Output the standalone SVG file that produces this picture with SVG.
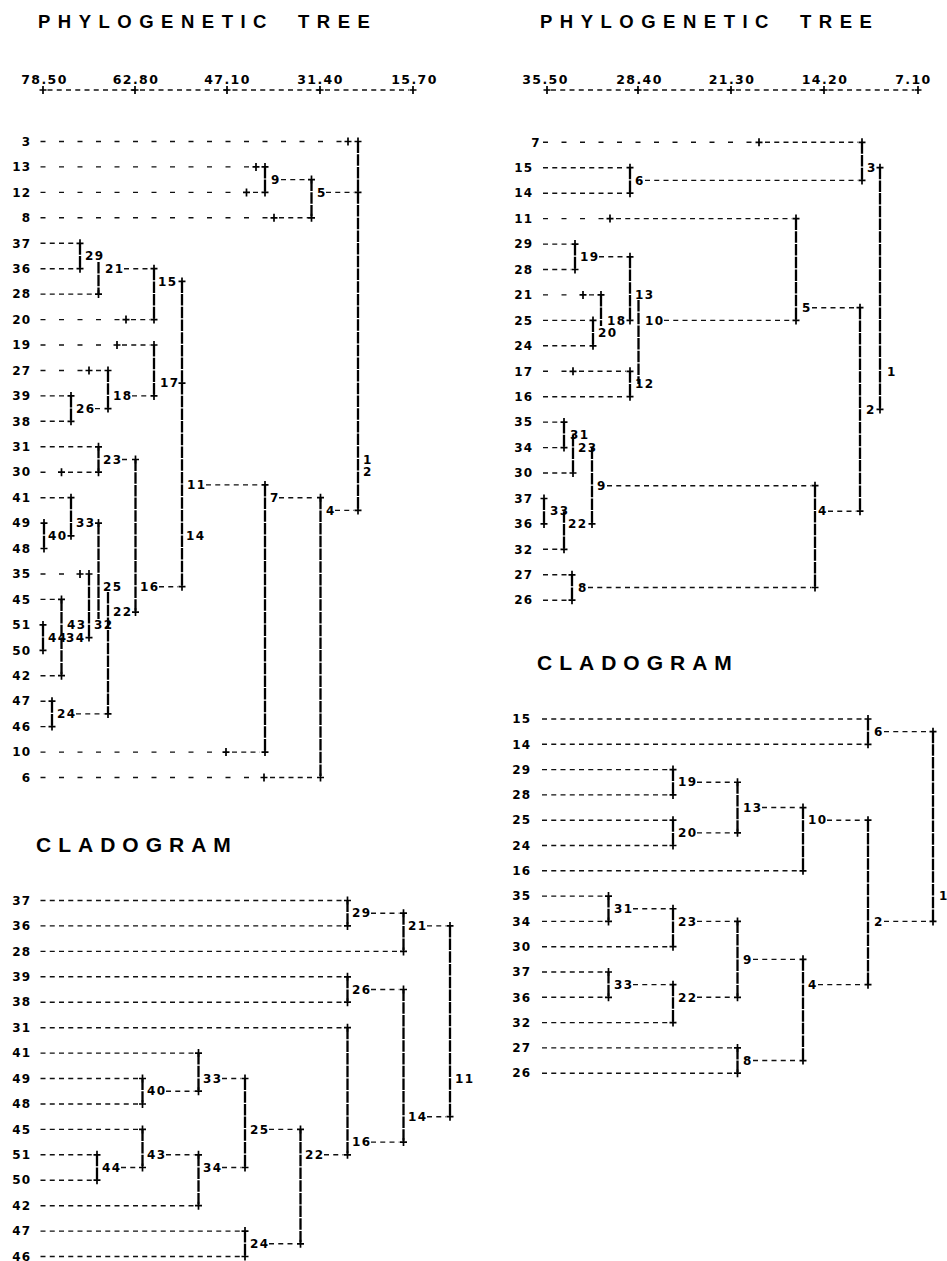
<svg xmlns="http://www.w3.org/2000/svg" width="947" height="1261" viewBox="0 0 947 1261">
<defs>
<style>
.d{fill:none;stroke:#111;stroke-width:1.4;stroke-dasharray:5 4.25}
.s{fill:none;stroke:#111;stroke-width:1.4;stroke-dasharray:5 13.5}
.v{fill:none;stroke:#000;stroke-width:2.3;stroke-dasharray:11.5 1.2}
.n{font-family:"DejaVu Sans",sans-serif;font-weight:bold;font-size:12px;letter-spacing:1.3px;fill:#000}
.e{text-anchor:end}
.ax{font-family:"DejaVu Sans",sans-serif;font-weight:bold;font-size:12.5px;letter-spacing:1.4px;text-anchor:middle;fill:#000}
.t{font-family:"Liberation Sans",Arial,sans-serif;font-weight:bold;font-size:18.5px;letter-spacing:7.5px;fill:#000}
.c{font-size:21px;letter-spacing:7px}
</style>
<path id="p" d="M-3.5 0H3.5M0 -4V4" stroke="#000" stroke-width="1.7" fill="none"/>
</defs>
<rect width="947" height="1261" fill="#fff"/>

<g id="title-tl"><text class="t" x="38" y="28">PHYLOGENETIC<tspan x="298">TREE</tspan></text></g>
<g id="title-tr"><text class="t" x="540" y="28">PHYLOGENETIC<tspan x="800">TREE</tspan></text></g>
<g id="title-bl"><text class="t c" x="36" y="852">CLADOGRAM</text></g>
<g id="title-br"><text class="t c" x="537" y="670">CLADOGRAM</text></g>

<g id="axis-tl">
<path class="d" d="M47.5 90H409"/>
<use href="#p" x="43" y="90"/><use href="#p" x="135" y="90"/><use href="#p" x="227" y="90"/><use href="#p" x="320" y="90"/><use href="#p" x="413" y="90"/>
<text class="ax" x="44.5" y="83.5">78.50</text><text class="ax" x="136" y="83.5">62.80</text><text class="ax" x="227.5" y="83.5">47.10</text><text class="ax" x="320.5" y="83.5">31.40</text><text class="ax" x="414.5" y="83.5">15.70</text>
</g>
<g id="axis-tr">
<path class="d" d="M551 90H914"/>
<use href="#p" x="547" y="90"/><use href="#p" x="638" y="90"/><use href="#p" x="731" y="90"/><use href="#p" x="824" y="90"/><use href="#p" x="918" y="90"/>
<text class="ax" x="545.5" y="83.5">35.50</text><text class="ax" x="639.5" y="83.5">28.40</text><text class="ax" x="732" y="83.5">21.30</text><text class="ax" x="825" y="83.5">14.20</text><text class="ax" x="913.5" y="83.5">7.10</text>
</g>

<!-- ===== TOP-LEFT PHYLOGENETIC TREE ===== -->
<g id="tl-connectors">
<path class="s" d="M40.5 141.5H342M40.5 166.9H249M40.5 192.4H233M40.5 217.8H268M40.5 319.6H120M40.5 345H101M40.5 370.5H83M40.5 472.2H46M40.5 574H64M40.5 752.1H212M40.5 777.5H250"/>
<path class="d" d="M253 192.4H258M279 217.8H308M40.5 243.3H76M40.5 268.7H76M40.5 294.1H94M131 319.6H150M122 345H150M96 370.5H101M40.5 395.9H67M40.5 421.3H67M40.5 446.8H94M68 472.2H94M40.5 497.7H67M40.5 599.4H57M40.5 675.7H57M40.5 701.2H46M40.5 726.6H46M232 752.1H260M270 777.5H316"/>
<path class="d" d="M281 179.6H308M326 192.4H354M124 268.7H150M206 484.9H261M132 395.9H150M95 408.6H104M122 459.5H131M159 586.7H178M279 497.7H316M335 510.4H354M76 713.9H104"/>
<path class="v" d="M358 141.5V510.4M265 166.9V192.4M311.5 179.6V217.8M80 243.3V268.7M98.5 262V294.1M154 268.7V319.6M182 281.4V586.7M154 345V395.9M108 370.5V408.6M71 395.9V421.3M98.5 446.8V472.2M135.5 459.5V612.1M265 484.9V752.1M320.5 497.7V777.5M71 497.7V535.8M44 523.1V548.5M98.5 523.1V619M89 574V637.6M61.5 599.4V675.7M43 624.9V650.3M108 592V713.9M52 701.2V726.6"/>
<use href="#p" x="348" y="141.5"/><use href="#p" x="256" y="166.9"/><use href="#p" x="246.5" y="192.4"/><use href="#p" x="274" y="217.8"/><use href="#p" x="126" y="319.6"/><use href="#p" x="117" y="345"/><use href="#p" x="89" y="370.5"/><use href="#p" x="61.5" y="472.2"/><use href="#p" x="80" y="574"/><use href="#p" x="226" y="752.1"/><use href="#p" x="264" y="777.5"/>
<use href="#p" x="358" y="141.5"/><use href="#p" x="265" y="166.9"/><use href="#p" x="265" y="192.4"/><use href="#p" x="311.5" y="217.8"/><use href="#p" x="80" y="243.3"/><use href="#p" x="80" y="268.7"/><use href="#p" x="98.5" y="294.1"/><use href="#p" x="154" y="319.6"/><use href="#p" x="154" y="345"/><use href="#p" x="108" y="370.5"/><use href="#p" x="71" y="395.9"/><use href="#p" x="71" y="421.3"/><use href="#p" x="98.5" y="446.8"/><use href="#p" x="98.5" y="472.2"/><use href="#p" x="71" y="497.7"/><use href="#p" x="44" y="523.1"/><use href="#p" x="44" y="548.5"/><use href="#p" x="89" y="574"/><use href="#p" x="61.5" y="599.4"/><use href="#p" x="43" y="624.9"/><use href="#p" x="43" y="650.3"/><use href="#p" x="61.5" y="675.7"/><use href="#p" x="52" y="701.2"/><use href="#p" x="52" y="726.6"/><use href="#p" x="265" y="752.1"/><use href="#p" x="320.5" y="777.5"/>
<use href="#p" x="311.5" y="179.6"/><use href="#p" x="358" y="192.4"/><use href="#p" x="154" y="268.7"/><use href="#p" x="182" y="281.4"/><use href="#p" x="265" y="484.9"/><use href="#p" x="182" y="383.2"/><use href="#p" x="154" y="395.9"/><use href="#p" x="108" y="408.6"/><use href="#p" x="135.5" y="459.5"/><use href="#p" x="182" y="586.7"/><use href="#p" x="320.5" y="497.7"/><use href="#p" x="358" y="510.4"/><use href="#p" x="98.5" y="523.1"/><use href="#p" x="71" y="535.8"/><use href="#p" x="89" y="637.6"/><use href="#p" x="135.5" y="612.1"/><use href="#p" x="108" y="713.9"/>
</g>
<g class="n e">
<g id="tl-leaf-3"><text x="31.5" y="145.7">3</text></g>
<g id="tl-leaf-13"><text x="31.5" y="171.1">13</text></g>
<g id="tl-leaf-12"><text x="31.5" y="196.6">12</text></g>
<g id="tl-leaf-8"><text x="31.5" y="222">8</text></g>
<g id="tl-leaf-37"><text x="31.5" y="247.5">37</text></g>
<g id="tl-leaf-36"><text x="31.5" y="272.9">36</text></g>
<g id="tl-leaf-28"><text x="31.5" y="298.3">28</text></g>
<g id="tl-leaf-20"><text x="31.5" y="323.8">20</text></g>
<g id="tl-leaf-19"><text x="31.5" y="349.2">19</text></g>
<g id="tl-leaf-27"><text x="31.5" y="374.7">27</text></g>
<g id="tl-leaf-39"><text x="31.5" y="400.1">39</text></g>
<g id="tl-leaf-38"><text x="31.5" y="425.5">38</text></g>
<g id="tl-leaf-31"><text x="31.5" y="451">31</text></g>
<g id="tl-leaf-30"><text x="31.5" y="476.4">30</text></g>
<g id="tl-leaf-41"><text x="31.5" y="501.9">41</text></g>
<g id="tl-leaf-49"><text x="31.5" y="527.3">49</text></g>
<g id="tl-leaf-48"><text x="31.5" y="552.7">48</text></g>
<g id="tl-leaf-35"><text x="31.5" y="578.2">35</text></g>
<g id="tl-leaf-45"><text x="31.5" y="603.6">45</text></g>
<g id="tl-leaf-51"><text x="31.5" y="629.1">51</text></g>
<g id="tl-leaf-50"><text x="31.5" y="654.5">50</text></g>
<g id="tl-leaf-42"><text x="31.5" y="679.9">42</text></g>
<g id="tl-leaf-47"><text x="31.5" y="705.4">47</text></g>
<g id="tl-leaf-46"><text x="31.5" y="730.8">46</text></g>
<g id="tl-leaf-10"><text x="31.5" y="756.3">10</text></g>
<g id="tl-leaf-6"><text x="31.5" y="781.7">6</text></g>
</g>
<g class="n">
<g id="tl-node-9"><text x="271" y="183.8">9</text></g>
<g id="tl-node-5"><text x="317" y="196.6">5</text></g>
<g id="tl-node-29"><text x="85" y="260.2">29</text></g>
<g id="tl-node-21"><text x="105" y="272.9">21</text></g>
<g id="tl-node-15"><text x="158" y="285.6">15</text></g>
<g id="tl-node-17"><text x="160" y="387.4">17</text></g>
<g id="tl-node-18"><text x="113" y="400.1">18</text></g>
<g id="tl-node-26"><text x="76" y="412.8">26</text></g>
<g id="tl-node-23"><text x="103" y="463.7">23</text></g>
<g id="tl-node-11"><text x="187" y="489.1">11</text></g>
<g id="tl-node-14"><text x="186" y="540">14</text></g>
<g id="tl-node-16"><text x="140" y="590.9">16</text></g>
<g id="tl-node-7"><text x="270" y="501.9">7</text></g>
<g id="tl-node-4"><text x="326" y="514.6">4</text></g>
<g id="tl-node-33"><text x="76" y="527.3">33</text></g>
<g id="tl-node-40"><text x="48" y="540">40</text></g>
<g id="tl-node-1"><text x="363" y="463.7">1</text></g>
<g id="tl-node-2"><text x="363" y="476.4">2</text></g>
<g id="tl-node-43"><text x="67" y="629.1">43</text></g>
<g id="tl-node-32"><text x="94" y="629.1">32</text></g>
<g id="tl-node-44"><text x="48" y="641.8">44</text></g>
<g id="tl-node-34"><text x="66" y="641.8">34</text></g>
<g id="tl-node-25"><text x="103" y="590.9">25</text></g>
<g id="tl-node-22"><text x="113" y="616.3">22</text></g>
<g id="tl-node-24"><text x="57" y="718.1">24</text></g>
</g>

<!-- ===== TOP-RIGHT PHYLOGENETIC TREE ===== -->
<g id="tr-connectors">
<path class="s" d="M543 142.3H752M543 218.6H604M543 294.9H568M543 371.3H568"/>
<path class="d" d="M765 142.3H858M543 167.7H626M543 193.2H626M616 218.6H792M543 244.1H571M543 269.5H571M589 294.9H596M543 320.4H589M543 345.8H589M579 371.3H626M543 396.7H626M543 422.1H560M543 447.6H560M543 473H569M543 549.3H560M543 574.8H568M543 600.2H568"/>
<path class="d" d="M645 180.4H858M812 307.7H856M599 256.8H626M664 320.4H792M607 485.7H811M588 587.5H811M828 511.2H856"/>
<path class="v" d="M862 142.3V180.4M630 167.7V193.2M880 167.7V409.4M860 307.7V511.2M796 218.6V320.4M575 244.1V269.5M630 256.8V320.4M601 294.9V326M593 320.4V345.8M638.5 300V384M630 371.3V396.7M564 422.1V447.6M573 434.9V473M592 447.6V523.9M544 498.5V523.9M564 511.2V549.3M572 574.8V600.2M815 485.7V587.5"/>
<use href="#p" x="759" y="142.3"/><use href="#p" x="610" y="218.6"/><use href="#p" x="583" y="294.9"/><use href="#p" x="573" y="371.3"/>
<use href="#p" x="862" y="142.3"/><use href="#p" x="630" y="167.7"/><use href="#p" x="630" y="193.2"/><use href="#p" x="796" y="218.6"/><use href="#p" x="575" y="244.1"/><use href="#p" x="575" y="269.5"/><use href="#p" x="601" y="294.9"/><use href="#p" x="593" y="320.4"/><use href="#p" x="593" y="345.8"/><use href="#p" x="630" y="371.3"/><use href="#p" x="630" y="396.7"/><use href="#p" x="564" y="422.1"/><use href="#p" x="564" y="447.6"/><use href="#p" x="573" y="473"/><use href="#p" x="544" y="498.5"/><use href="#p" x="544" y="523.9"/><use href="#p" x="564" y="549.3"/><use href="#p" x="572" y="574.8"/><use href="#p" x="572" y="600.2"/>
<use href="#p" x="880" y="167.7"/><use href="#p" x="862" y="180.4"/><use href="#p" x="880" y="409.4"/><use href="#p" x="860" y="307.7"/><use href="#p" x="630" y="256.8"/><use href="#p" x="630" y="320.4"/><use href="#p" x="796" y="320.4"/><use href="#p" x="815" y="485.7"/><use href="#p" x="815" y="587.5"/><use href="#p" x="860" y="511.2"/><use href="#p" x="592" y="523.9"/>
</g>
<g class="n e">
<g id="tr-leaf-7"><text x="541" y="146.5">7</text></g>
<g id="tr-leaf-15"><text x="533.5" y="171.9">15</text></g>
<g id="tr-leaf-14"><text x="533.5" y="197.4">14</text></g>
<g id="tr-leaf-11"><text x="533.5" y="222.8">11</text></g>
<g id="tr-leaf-29"><text x="533.5" y="248.3">29</text></g>
<g id="tr-leaf-28"><text x="533.5" y="273.7">28</text></g>
<g id="tr-leaf-21"><text x="533.5" y="299.1">21</text></g>
<g id="tr-leaf-25"><text x="533.5" y="324.6">25</text></g>
<g id="tr-leaf-24"><text x="533.5" y="350">24</text></g>
<g id="tr-leaf-17"><text x="533.5" y="375.5">17</text></g>
<g id="tr-leaf-16"><text x="533.5" y="400.9">16</text></g>
<g id="tr-leaf-35"><text x="533.5" y="426.3">35</text></g>
<g id="tr-leaf-34"><text x="533.5" y="451.8">34</text></g>
<g id="tr-leaf-30"><text x="533.5" y="477.2">30</text></g>
<g id="tr-leaf-37"><text x="533.5" y="502.7">37</text></g>
<g id="tr-leaf-36"><text x="533.5" y="528.1">36</text></g>
<g id="tr-leaf-32"><text x="533.5" y="553.5">32</text></g>
<g id="tr-leaf-27"><text x="533.5" y="579">27</text></g>
<g id="tr-leaf-26"><text x="533.5" y="604.4">26</text></g>
</g>
<g class="n">
<g id="tr-node-3"><text x="867" y="171.9">3</text></g>
<g id="tr-node-6"><text x="635" y="184.6">6</text></g>
<g id="tr-node-1"><text x="887" y="375.5">1</text></g>
<g id="tr-node-2"><text x="866" y="413.6">2</text></g>
<g id="tr-node-5"><text x="802" y="311.9">5</text></g>
<g id="tr-node-19"><text x="580" y="261">19</text></g>
<g id="tr-node-13"><text x="635" y="299.1">13</text></g>
<g id="tr-node-18"><text x="607" y="324.6">18</text></g>
<g id="tr-node-20"><text x="598" y="337.3">20</text></g>
<g id="tr-node-10"><text x="645" y="324.6">10</text></g>
<g id="tr-node-12"><text x="635" y="388.2">12</text></g>
<g id="tr-node-31"><text x="570" y="439.1">31</text></g>
<g id="tr-node-23"><text x="578" y="451.8">23</text></g>
<g id="tr-node-9"><text x="597" y="489.9">9</text></g>
<g id="tr-node-33"><text x="550" y="515.4">33</text></g>
<g id="tr-node-22"><text x="568" y="528.1">22</text></g>
<g id="tr-node-8"><text x="578" y="591.7">8</text></g>
<g id="tr-node-4"><text x="818" y="515.4">4</text></g>
</g>

<!-- ===== BOTTOM-LEFT CLADOGRAM ===== -->
<g id="bl-connectors">
<path class="d" d="M40.5 900.5H343.5M40.5 925.9H343.5M40.5 951.4H399.5M40.5 976.8H343.5M40.5 1002.2H343.5M40.5 1027.7H343.5M40.5 1053.1H194.5M40.5 1078.5H138.5M40.5 1104H138.5M40.5 1129.4H138.5M40.5 1154.8H93M40.5 1180.2H93M40.5 1205.7H194.5M40.5 1231.1H241M40.5 1256.5H241"/>
<path class="d" d="M371 913.2H399.5M427 925.9H446M371 989.5H399.5M427 1116.7H446M371 1142.1H399.5M166 1091.2H194.5M222 1078.5H241M121 1167.5H138.5M166 1154.8H194.5M222 1167.5H241M269 1129.4H296.5M269 1243.8H296.5M324 1154.8H343.5"/>
<path class="v" d="M347.5 900.5V925.9M403.5 913.2V951.4M347.5 976.8V1002.2M403.5 989.5V1142.1M450 925.9V1116.7M347.5 1027.7V1154.8M142.5 1078.5V1104M198.5 1053.1V1091.2M97 1154.8V1180.2M142.5 1129.4V1167.5M198.5 1154.8V1205.7M245 1078.5V1167.5M245 1231.1V1256.5M300.5 1129.4V1243.8"/>
<use href="#p" x="347.5" y="900.5"/><use href="#p" x="347.5" y="925.9"/><use href="#p" x="403.5" y="951.4"/><use href="#p" x="347.5" y="976.8"/><use href="#p" x="347.5" y="1002.2"/><use href="#p" x="347.5" y="1027.7"/><use href="#p" x="198.5" y="1053.1"/><use href="#p" x="142.5" y="1078.5"/><use href="#p" x="142.5" y="1104"/><use href="#p" x="142.5" y="1129.4"/><use href="#p" x="97" y="1154.8"/><use href="#p" x="97" y="1180.2"/><use href="#p" x="198.5" y="1205.7"/><use href="#p" x="245" y="1231.1"/><use href="#p" x="245" y="1256.5"/>
<use href="#p" x="403.5" y="913.2"/><use href="#p" x="450" y="925.9"/><use href="#p" x="403.5" y="989.5"/><use href="#p" x="450" y="1116.7"/><use href="#p" x="403.5" y="1142.1"/><use href="#p" x="198.5" y="1091.2"/><use href="#p" x="245" y="1078.5"/><use href="#p" x="142.5" y="1167.5"/><use href="#p" x="198.5" y="1154.8"/><use href="#p" x="245" y="1167.5"/><use href="#p" x="300.5" y="1129.4"/><use href="#p" x="300.5" y="1243.8"/><use href="#p" x="347.5" y="1154.8"/>
</g>
<g class="n e">
<g id="bl-leaf-37"><text x="31.5" y="904.7">37</text></g>
<g id="bl-leaf-36"><text x="31.5" y="930.1">36</text></g>
<g id="bl-leaf-28"><text x="31.5" y="955.6">28</text></g>
<g id="bl-leaf-39"><text x="31.5" y="981">39</text></g>
<g id="bl-leaf-38"><text x="31.5" y="1006.4">38</text></g>
<g id="bl-leaf-31"><text x="31.5" y="1031.9">31</text></g>
<g id="bl-leaf-41"><text x="31.5" y="1057.3">41</text></g>
<g id="bl-leaf-49"><text x="31.5" y="1082.7">49</text></g>
<g id="bl-leaf-48"><text x="31.5" y="1108.2">48</text></g>
<g id="bl-leaf-45"><text x="31.5" y="1133.6">45</text></g>
<g id="bl-leaf-51"><text x="31.5" y="1159">51</text></g>
<g id="bl-leaf-50"><text x="31.5" y="1184.4">50</text></g>
<g id="bl-leaf-42"><text x="31.5" y="1209.9">42</text></g>
<g id="bl-leaf-47"><text x="31.5" y="1235.3">47</text></g>
<g id="bl-leaf-46"><text x="31.5" y="1260.5">46</text></g>
</g>
<g class="n">
<g id="bl-node-29"><text x="352" y="917.4">29</text></g>
<g id="bl-node-21"><text x="408" y="930.1">21</text></g>
<g id="bl-node-26"><text x="352" y="993.7">26</text></g>
<g id="bl-node-14"><text x="408" y="1120.9">14</text></g>
<g id="bl-node-11"><text x="455" y="1082.7">11</text></g>
<g id="bl-node-16"><text x="352" y="1146.3">16</text></g>
<g id="bl-node-40"><text x="147" y="1095.4">40</text></g>
<g id="bl-node-33"><text x="203" y="1082.7">33</text></g>
<g id="bl-node-44"><text x="102" y="1171.7">44</text></g>
<g id="bl-node-43"><text x="147" y="1159">43</text></g>
<g id="bl-node-34"><text x="203" y="1171.7">34</text></g>
<g id="bl-node-25"><text x="250" y="1133.6">25</text></g>
<g id="bl-node-24"><text x="250" y="1248">24</text></g>
<g id="bl-node-22"><text x="305" y="1159">22</text></g>
</g>

<!-- ===== BOTTOM-RIGHT CLADOGRAM ===== -->
<g id="br-connectors">
<path class="d" d="M542 719H864M542 744.3H864M542 769.6H669M542 794.9H669M542 820.2H669M542 845.5H669M542 870.8H799M542 896.1H604.5M542 921.4H604.5M542 946.7H669M542 972H604.5M542 997.3H604.5M542 1022.6H669M542 1047.9H733.5M542 1073.2H733.5"/>
<path class="d" d="M884 731.65H929M697 782.25H733.5M697 832.85H733.5M762 807.55H799M827 820.2H864M884 921.4H929M633 908.75H669M697 921.4H733.5M633 984.65H669M697 997.3H733.5M753 959.35H799M753 1060.55H799M818 984.65H864"/>
<path class="v" d="M868 719V744.3M673 769.6V794.9M673 820.2V845.5M737.5 782.25V832.85M803 807.55V870.8M868 820.2V984.65M933 731.65V921.4M608.5 896.1V921.4M673 908.75V946.7M608.5 972V997.3M673 984.65V1022.6M737.5 921.4V997.3M737.5 1047.9V1073.2M803 959.35V1060.55"/>
<use href="#p" x="868" y="719"/><use href="#p" x="868" y="744.3"/><use href="#p" x="673" y="769.6"/><use href="#p" x="673" y="794.9"/><use href="#p" x="673" y="820.2"/><use href="#p" x="673" y="845.5"/><use href="#p" x="803" y="870.8"/><use href="#p" x="608.5" y="896.1"/><use href="#p" x="608.5" y="921.4"/><use href="#p" x="673" y="946.7"/><use href="#p" x="608.5" y="972"/><use href="#p" x="608.5" y="997.3"/><use href="#p" x="673" y="1022.6"/><use href="#p" x="737.5" y="1047.9"/><use href="#p" x="737.5" y="1073.2"/>
<use href="#p" x="933" y="731.65"/><use href="#p" x="737.5" y="782.25"/><use href="#p" x="737.5" y="832.85"/><use href="#p" x="803" y="807.55"/><use href="#p" x="868" y="820.2"/><use href="#p" x="933" y="921.4"/><use href="#p" x="673" y="908.75"/><use href="#p" x="737.5" y="921.4"/><use href="#p" x="673" y="984.65"/><use href="#p" x="737.5" y="997.3"/><use href="#p" x="803" y="959.35"/><use href="#p" x="803" y="1060.55"/><use href="#p" x="868" y="984.65"/>
</g>
<g class="n e">
<g id="br-leaf-15"><text x="531.5" y="723.2">15</text></g>
<g id="br-leaf-14"><text x="531.5" y="748.5">14</text></g>
<g id="br-leaf-29"><text x="531.5" y="773.8">29</text></g>
<g id="br-leaf-28"><text x="531.5" y="799.1">28</text></g>
<g id="br-leaf-25"><text x="531.5" y="824.4">25</text></g>
<g id="br-leaf-24"><text x="531.5" y="849.7">24</text></g>
<g id="br-leaf-16"><text x="531.5" y="875">16</text></g>
<g id="br-leaf-35"><text x="531.5" y="900.3">35</text></g>
<g id="br-leaf-34"><text x="531.5" y="925.6">34</text></g>
<g id="br-leaf-30"><text x="531.5" y="950.9">30</text></g>
<g id="br-leaf-37"><text x="531.5" y="976.2">37</text></g>
<g id="br-leaf-36"><text x="531.5" y="1001.5">36</text></g>
<g id="br-leaf-32"><text x="531.5" y="1026.8">32</text></g>
<g id="br-leaf-27"><text x="531.5" y="1052.1">27</text></g>
<g id="br-leaf-26"><text x="531.5" y="1077.4">26</text></g>
</g>
<g class="n">
<g id="br-node-6"><text x="874" y="735.85">6</text></g>
<g id="br-node-19"><text x="678" y="786.45">19</text></g>
<g id="br-node-20"><text x="678" y="837.05">20</text></g>
<g id="br-node-13"><text x="743" y="811.75">13</text></g>
<g id="br-node-10"><text x="808" y="824.4">10</text></g>
<g id="br-node-2"><text x="874" y="925.6">2</text></g>
<g id="br-node-1"><text x="939" y="900.3">1</text></g>
<g id="br-node-31"><text x="614" y="912.95">31</text></g>
<g id="br-node-23"><text x="678" y="925.6">23</text></g>
<g id="br-node-33"><text x="614" y="988.85">33</text></g>
<g id="br-node-22"><text x="678" y="1001.5">22</text></g>
<g id="br-node-9"><text x="743" y="963.55">9</text></g>
<g id="br-node-8"><text x="743" y="1064.75">8</text></g>
<g id="br-node-4"><text x="808" y="988.85">4</text></g>
</g>
</svg>
